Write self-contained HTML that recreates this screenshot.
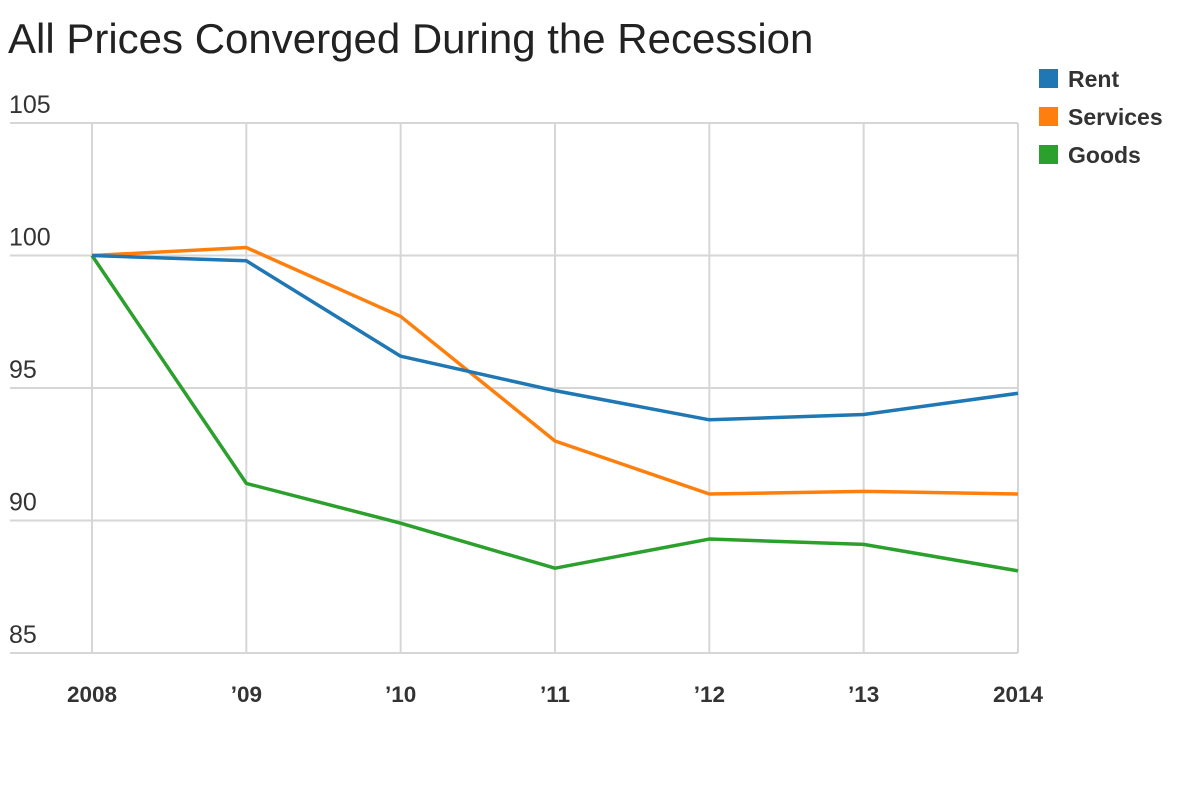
<!DOCTYPE html>
<html><head><meta charset="utf-8"><style>
body{margin:0;background:#fff;font-family:"Liberation Sans",sans-serif}
#c{position:relative;width:1200px;height:800px;overflow:hidden}
</style></head><body>
<div id="c">
<svg id="s" width="1200" height="800">
<text x="8" y="53" font-size="42" fill="#222" font-family="Liberation Sans, sans-serif">All Prices Converged During the Recession</text>
<g id="grid"></g><g id="lines"></g><g id="legend"></g>
</svg>
</div>
<script>
const categories=["2008","\u201909","\u201910","\u201911","\u201912","\u201913","2014"];
const yTicks=[85,90,95,100,105];
const seriesNames=["Rent","Services","Goods"];
const seriesColors=["#1f77b4","#ff7f0e","#2ca02c"];
const rent=[100,99.8,96.2,94.9,93.8,94.0,94.8];
const services=[100,100.3,97.7,93.0,91.0,91.1,91.0];
const goods=[100,91.4,89.9,88.2,89.3,89.1,88.1];
const seriesData=[rent,services,goods];
const NS="http://www.w3.org/2000/svg";
const x0=92,x1=1018,yTop=123,yBot=653,yMin=85,yMax=105;
const xs=i=>x0+(x1-x0)*i/(categories.length-1);
const ys=v=>yBot-(v-yMin)/(yMax-yMin)*(yBot-yTop);
function mk(t,a,p){const e=document.createElementNS(NS,t);for(const k in a)e.setAttribute(k,a[k]);p.appendChild(e);return e;}
const g=document.getElementById('grid');
yTicks.forEach(v=>{
 const l=mk('line',{x1:10,x2:x1,y1:ys(v),y2:ys(v),stroke:'#d6d6d6','stroke-width':2},g);
 
 
 const t=mk('text',{x:9,y:ys(v)-10,'font-size':25,fill:'#333'},g);t.textContent=v;
 
 
});
categories.forEach((c,i)=>{
 const l=mk('line',{x1:xs(i),x2:xs(i),y1:yTop,y2:yBot,stroke:'#d6d6d6','stroke-width':2},g);
 
 
 const t=mk('text',{x:xs(i),y:702,'font-size':22.5,'font-weight':'bold',fill:'#333','text-anchor':'middle'},g);t.textContent=c;
 
 
});
const lg=document.getElementById('lines');
for(let k=seriesData.length-1;k>=0;k--){
 const d=seriesData[k].map((v,i)=>(i?'L':'M')+xs(i)+','+ys(v)).join('');
 const p=mk('path',{d:d,fill:'none',stroke:seriesColors[k],'stroke-width':3.5,'stroke-linejoin':'round'},lg);
 
 
}
const leg=document.getElementById('legend');
seriesNames.forEach((n,i)=>{
 const r=mk('rect',{x:1039,y:69+i*38,width:19,height:19,fill:seriesColors[i]},leg);
 
 
 const t=mk('text',{x:1068,y:87+i*38,'font-size':23,'font-weight':'bold',fill:'#333'},leg);t.textContent=n;
 
 
});
</script>
</body></html>
